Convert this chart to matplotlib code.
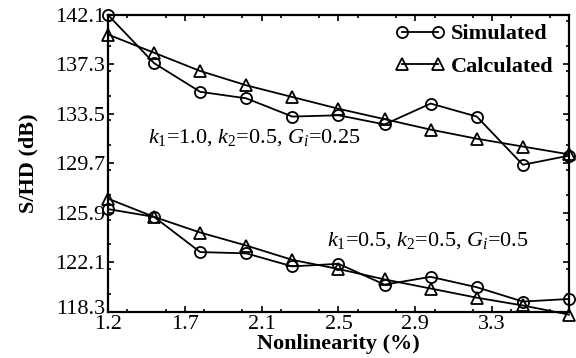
import matplotlib
matplotlib.use("Agg")
import matplotlib.pyplot as plt
import matplotlib.transforms as mtransforms
from matplotlib.ticker import FixedLocator, FixedFormatter, MultipleLocator

plt.rcParams['font.family'] = ['Liberation Serif', 'DejaVu Serif']
plt.rcParams['mathtext.fontset'] = 'custom'
plt.rcParams['mathtext.rm'] = 'Liberation Serif'
plt.rcParams['mathtext.it'] = 'Liberation Serif:italic'

# Nonlinearity (%) positions of the 11 samples (axis scale)
nonlinearity = [1.30, 1.54, 1.78, 2.02, 2.26, 2.50, 2.74, 2.98, 3.22, 3.46, 3.70]

# Case 1: k1=1.0, k2=0.5, Gi=0.25
sim_1 = [141.1, 137.4, 135.2, 134.7, 133.3, 133.4, 132.7, 134.3, 133.3, 129.6, 130.3]
calc_1 = [139.6, 138.2, 136.8, 135.7, 134.8, 133.9, 133.1, 132.3, 131.6, 131.0, 130.4]

# Case 2: k1=0.5, k2=0.5, Gi=0.5
sim_2 = [126.2, 125.6, 122.9, 122.8, 121.8, 122.0, 120.4, 121.0, 120.2, 119.1, 119.3]
calc_2 = [127.0, 125.6, 124.4, 123.4, 122.3, 121.6, 120.8, 120.1, 119.4, 118.8, 118.1]

x_tick_pos = [1.3, 1.7, 2.1, 2.5, 2.9, 3.3, 3.7]
x_tick_labels = ["1.2", "1.7", "2.1", "2.5", "2.9", "3.3", ""]
y_tick_pos = [118.3, 122.1, 125.9, 129.7, 133.5, 137.3, 141.1]
y_tick_labels = ["118.3", "122.1", "125.9", "129.7", "133.5", "137.3", "142.1"]

fig = plt.figure(figsize=(5.76, 3.58), dpi=100)
ax = fig.add_axes([0.1875, 0.1285, 0.8003, 0.8297])

lw = 1.3
ms_c = 8
ms_t = 9
kw_c = dict(color='black', lw=lw, marker='o', ms=ms_c, mfc='none', mec='black', mew=1.3, clip_on=False, zorder=3)
kw_t = dict(color='black', lw=lw, marker='^', ms=ms_t, mfc='none', mec='black', mew=1.3, clip_on=False, zorder=3)

ax.plot(nonlinearity, sim_1, label='Simulated', **kw_c)
ax.plot(nonlinearity, calc_1, label='Calculated', **kw_t)
ax.plot(nonlinearity, sim_2, **kw_c)
ax.plot(nonlinearity, calc_2, **kw_t)

ax.set_xlim(1.3, 3.7)
ax.set_ylim(118.3, 141.1)

ax.xaxis.set_major_locator(FixedLocator(x_tick_pos))
ax.xaxis.set_major_formatter(FixedFormatter(x_tick_labels))
ax.xaxis.set_minor_locator(MultipleLocator(0.2))
ax.yaxis.set_major_locator(FixedLocator(y_tick_pos))
ax.yaxis.set_major_formatter(FixedFormatter(y_tick_labels))
ax.yaxis.set_minor_locator(MultipleLocator(1.9))

ax.tick_params(which='both', direction='in', top=True, right=True, width=1.2)
ax.tick_params(which='major', length=4, labelsize=16, pad=2)
ax.tick_params(which='minor', length=2.5)
for s in ax.spines.values():
    s.set_linewidth(1.6)

ax.set_xlabel('Nonlinearity (%)', fontsize=16, fontweight='bold', labelpad=0)
ax.set_ylabel('S/HD (dB)', fontsize=16, fontweight='bold', labelpad=12)

ax.text(1.51, 131.7, r'$k_1$=1.0, $k_2$=0.5, $G_i$=0.25', fontsize=16, va='center', ha='left')
ax.text(2.44, 123.8, r'$k_1$=0.5, $k_2$=0.5, $G_i$=0.5', fontsize=16, va='center', ha='left')

leg = ax.legend(loc='upper right', bbox_to_anchor=(0.986, 1.0), numpoints=2, frameon=False,
                handlelength=2.2, handletextpad=0.3, labelspacing=0.55, borderaxespad=0.0,
                prop={'family': 'Liberation Serif', 'weight': 'bold', 'size': 16})

# lift the lowest y tick label slightly, as in the original
fig.canvas.draw()
lbl = ax.yaxis.get_majorticklabels()[0]
lbl.set_transform(lbl.get_transform() + mtransforms.ScaledTranslation(0, 5 / 100, fig.dpi_scale_trans))

fig.savefig('out.png', dpi=100)
